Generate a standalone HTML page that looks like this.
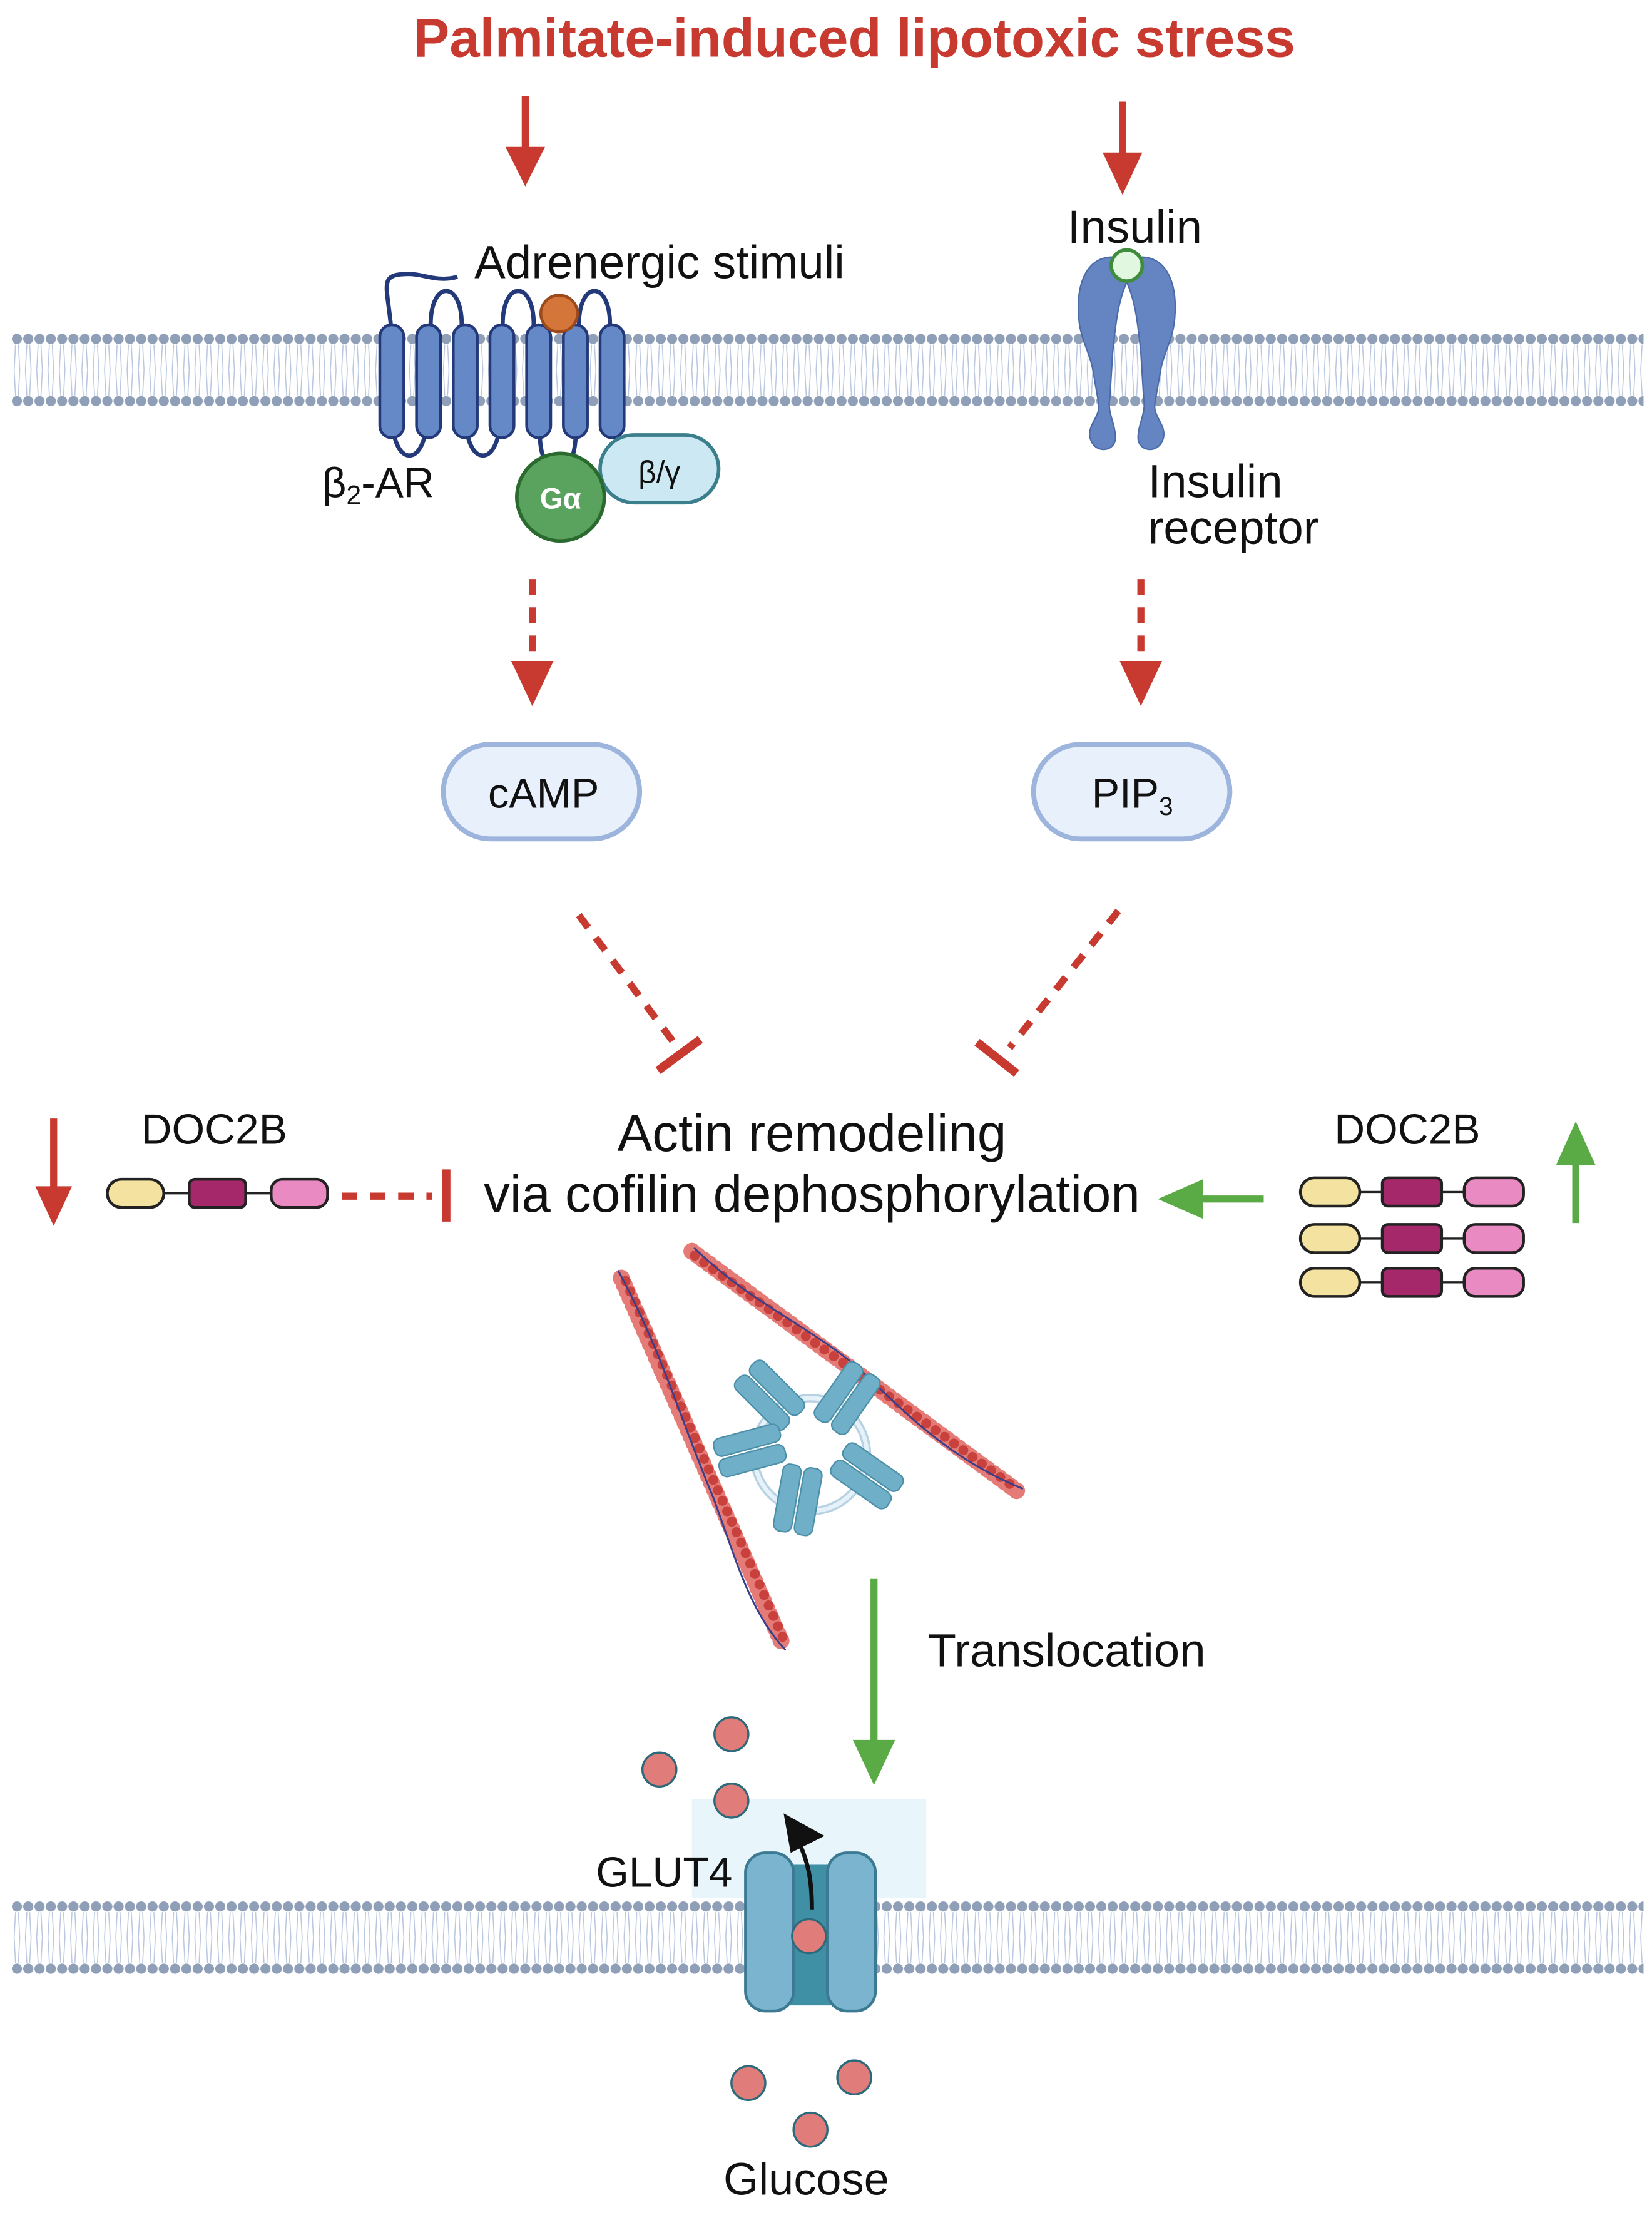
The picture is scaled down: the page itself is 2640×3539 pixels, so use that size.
<!DOCTYPE html>
<html><head><meta charset="utf-8"><style>
html,body{margin:0;padding:0;background:#fff}
svg{display:block}
text{font-family:"Liberation Sans",Arial,sans-serif}
</style></head><body>
<svg width="2640" height="3539" viewBox="0 0 1170 1568.4" xmlns="http://www.w3.org/2000/svg">
<defs>
<pattern id="mem" x="0" y="0" width="8" height="52" patternUnits="userSpaceOnUse">
<line x1="3" y1="8" x2="2" y2="26" stroke="#b8c6de" stroke-width="0.7"/>
<line x1="5" y1="8" x2="6" y2="26" stroke="#b8c6de" stroke-width="0.7"/>
<line x1="3" y1="44" x2="2" y2="26" stroke="#b8c6de" stroke-width="0.7"/>
<line x1="5" y1="44" x2="6" y2="26" stroke="#b8c6de" stroke-width="0.7"/>
<circle cx="4" cy="4" r="3.6" fill="#8f9fb7"/>
<circle cx="4" cy="48" r="3.6" fill="#8f9fb7"/>
</pattern>
</defs>

<!-- membranes -->
<g transform="translate(8,236)"><rect x="0" y="0" width="1156" height="52" fill="url(#mem)"/></g>
<g transform="translate(8,1346)"><rect x="0" y="0" width="1156" height="52" fill="url(#mem)"/></g>

<!-- title -->
<text x="605" y="40" text-anchor="middle" font-size="38.5" font-weight="bold" fill="#c83a30">Palmitate-induced lipotoxic stress</text>

<!-- red arrows top -->
<line x1="372" y1="68" x2="372" y2="108" stroke="#c83a30" stroke-width="5"/>
<polygon points="358,104 386,104 372,132" fill="#c83a30"/>
<line x1="795" y1="72" x2="795" y2="112" stroke="#c83a30" stroke-width="5"/>
<polygon points="781,108 809,108 795,138" fill="#c83a30"/>

<!-- GPCR -->
<g stroke="#23397a" stroke-width="3" fill="none">
<path d="M277,232 C274,200 268,194 290,194 C300,194 310,200 324,196"/>
<path d="M305,230 C305,198 327,198 327,230"/>
<path d="M356,230 C356,198 378,198 378,230"/>
<path d="M410,230 C410,198 432,198 432,230"/>
<path d="M278,300 C280,330 300,330 302,300"/>
<path d="M330,300 C332,330 352,330 354,300"/>
<path d="M382,300 C382,320 385,325 388,330"/>
<path d="M408,300 C408,320 405,325 402,330"/>
</g>
<g fill="#6589c6" stroke="#23397a" stroke-width="2">
<rect x="269" y="230" width="17" height="80" rx="8.5"/>
<rect x="295" y="230" width="17" height="80" rx="8.5"/>
<rect x="321" y="230" width="17" height="80" rx="8.5"/>
<rect x="347" y="230" width="17" height="80" rx="8.5"/>
<rect x="373" y="230" width="17" height="80" rx="8.5"/>
<rect x="399" y="230" width="17" height="80" rx="8.5"/>
<rect x="425" y="230" width="17" height="80" rx="8.5"/>
</g>
<circle cx="396" cy="222" r="13" fill="#d4763a" stroke="#9c4a1c" stroke-width="2"/>
<rect x="425" y="308" width="84" height="48" rx="24" fill="#cce8f2" stroke="#3b7f8c" stroke-width="2.5"/>
<text x="467" y="342" text-anchor="middle" font-size="22" fill="#111">β/γ</text>
<circle cx="397" cy="352" r="31" fill="#5aa35e" stroke="#2b6a2e" stroke-width="2.5"/>
<text x="397" y="360" text-anchor="middle" font-size="21" font-weight="bold" fill="#fff">Gα</text>
<text x="336" y="197" font-size="33" fill="#111">Adrenergic stimuli</text>
<text x="228" y="352" font-size="30" fill="#111">β<tspan font-size="19" dy="5">2</tspan><tspan dy="-5">-AR</tspan></text>

<!-- Insulin receptor -->
<text x="756" y="172" font-size="33" fill="#111">Insulin</text>
<g fill="#6484c2" stroke="#4a6aa8" stroke-width="1">
<path d="M788,182 C770,182 762,200 764,225 C765,240 772,250 774,262 L778,285 C780,295 770,300 772,310 C775,322 790,320 790,310 C790,300 784,292 786,282 L788,250 C790,230 792,210 800,196 Z"/>
<path d="M808,182 C826,182 834,200 832,225 C831,240 824,250 822,262 L818,285 C816,295 826,300 824,310 C821,322 806,320 806,310 C806,300 812,292 810,282 L808,250 C806,230 804,210 796,196 Z"/>
</g>
<circle cx="798" cy="188" r="11" fill="#e2f7df" stroke="#3f8d3c" stroke-width="2.5"/>
<text x="813" y="352" font-size="33" fill="#111">Insulin</text>
<text x="813" y="385" font-size="33" fill="#111">receptor</text>

<!-- dashed red arrows -->
<line x1="377" y1="410" x2="377" y2="468" stroke="#c83a30" stroke-width="5" stroke-dasharray="11,9"/>
<polygon points="362,468 392,468 377,500" fill="#c83a30"/>
<line x1="808" y1="410" x2="808" y2="468" stroke="#c83a30" stroke-width="5" stroke-dasharray="11,9"/>
<polygon points="793,468 823,468 808,500" fill="#c83a30"/>

<!-- cAMP / PIP3 -->
<rect x="314" y="527" width="139" height="67" rx="33.5" fill="#e8f0fb" stroke="#9db4dd" stroke-width="3.5"/>
<text x="385" y="572" text-anchor="middle" font-size="29.5" fill="#111">cAMP</text>
<rect x="732" y="527" width="139" height="67" rx="33.5" fill="#e8f0fb" stroke="#9db4dd" stroke-width="3.5"/>
<text x="802" y="572" font-size="29.5" fill="#111" text-anchor="middle">PIP<tspan font-size="18" dy="5">3</tspan></text>

<!-- inhibitory dashed -->
<line x1="410" y1="648" x2="480" y2="742" stroke="#c83a30" stroke-width="5" stroke-dasharray="11,9"/>
<line x1="466" y1="758" x2="496" y2="736" stroke="#c83a30" stroke-width="6"/>
<line x1="792" y1="645" x2="715" y2="742" stroke="#c83a30" stroke-width="5" stroke-dasharray="11,9"/>
<line x1="692" y1="738" x2="720" y2="760" stroke="#c83a30" stroke-width="6"/>

<!-- actin text -->
<text x="575" y="815" text-anchor="middle" font-size="37" fill="#111">Actin remodeling</text>
<text x="575" y="858" text-anchor="middle" font-size="37" fill="#111">via cofilin dephosphorylation</text>

<!-- DOC2B left -->
<text x="100" y="810" font-size="30" fill="#111">DOC2B</text>
<line x1="38" y1="792" x2="38" y2="845" stroke="#c83a30" stroke-width="5"/>
<polygon points="25,840 51,840 38,868" fill="#c83a30"/>
<line x1="110" y1="845" x2="200" y2="845" stroke="#222" stroke-width="1.5"/>
<rect x="76" y="835" width="40" height="20" rx="10" fill="#f3e2a0" stroke="#222" stroke-width="2"/>
<rect x="134" y="835" width="40" height="20" rx="4" fill="#a4286a" stroke="#222" stroke-width="2"/>
<rect x="192" y="835" width="40" height="20" rx="8" fill="#e98ac2" stroke="#222" stroke-width="2"/>
<line x1="242" y1="847" x2="306" y2="847" stroke="#c83a30" stroke-width="5" stroke-dasharray="11,9"/>
<line x1="316" y1="828" x2="316" y2="865" stroke="#c83a30" stroke-width="6"/>

<!-- DOC2B right -->
<text x="945" y="810" font-size="30" fill="#111">DOC2B</text>
<line x1="895" y1="849" x2="850" y2="849" stroke="#5aab45" stroke-width="5"/>
<polygon points="852,835 852,863 820,849" fill="#5aab45"/>
<line x1="1116" y1="866" x2="1116" y2="820" stroke="#5aab45" stroke-width="5"/>
<polygon points="1102,825 1130,825 1116,794" fill="#5aab45"/>
<g stroke="#222" stroke-width="2">
<g>
<line x1="960" y1="844" x2="1045" y2="844" stroke-width="1.5"/>
<rect x="921" y="834" width="42" height="20" rx="10" fill="#f3e2a0"/>
<rect x="979" y="834" width="42" height="20" rx="4" fill="#a4286a"/>
<rect x="1037" y="834" width="42" height="20" rx="8" fill="#e98ac2"/>
</g>
<g transform="translate(0,33)">
<line x1="960" y1="844" x2="1045" y2="844" stroke-width="1.5"/>
<rect x="921" y="834" width="42" height="20" rx="10" fill="#f3e2a0"/>
<rect x="979" y="834" width="42" height="20" rx="4" fill="#a4286a"/>
<rect x="1037" y="834" width="42" height="20" rx="8" fill="#e98ac2"/>
</g>
<g transform="translate(0,64)">
<line x1="960" y1="844" x2="1045" y2="844" stroke-width="1.5"/>
<rect x="921" y="834" width="42" height="20" rx="10" fill="#f3e2a0"/>
<rect x="979" y="834" width="42" height="20" rx="4" fill="#a4286a"/>
<rect x="1037" y="834" width="42" height="20" rx="8" fill="#e98ac2"/>
</g>
</g>

<!-- actin filaments -->
<g stroke-linecap="round" fill="none">
<line x1="440" y1="905" x2="555" y2="1166" stroke="#e57b77" stroke-width="12" stroke-dasharray="0.1,5"/>
<line x1="443" y1="907" x2="556" y2="1163" stroke="#c8413d" stroke-width="7" stroke-dasharray="0.1,8"/>
<path d="M438,900 C470,960 480,1000 505,1060 C520,1100 530,1140 556,1168" stroke="#3a3f8a" stroke-width="1.3"/>
<line x1="490" y1="886" x2="722" y2="1057" stroke="#e57b77" stroke-width="12" stroke-dasharray="0.1,5"/>
<line x1="492" y1="889" x2="721" y2="1055" stroke="#c8413d" stroke-width="7" stroke-dasharray="0.1,8"/>
<path d="M492,884 C540,930 580,940 620,980 C660,1020 690,1040 724,1054" stroke="#3a3f8a" stroke-width="1.3"/>
</g>

<!-- vesicle -->
<circle cx="574" cy="1030" r="40" fill="none" stroke="#b8d2e3" stroke-width="6"/>
<circle cx="574" cy="1030" r="40" fill="none" stroke="#e6f2fa" stroke-width="3"/>
<g fill="#6fafc8" stroke="#4b8fa8" stroke-width="1">
<g transform="translate(545,988) rotate(45)"><rect x="-24" y="-14" width="48" height="13" rx="5"/><rect x="-24" y="1" width="48" height="13" rx="5"/></g>
<g transform="translate(600,990) rotate(-55)"><rect x="-24" y="-14" width="48" height="13" rx="5"/><rect x="-24" y="1" width="48" height="13" rx="5"/></g>
<g transform="translate(531,1027) rotate(-15)"><rect x="-24" y="-14" width="48" height="13" rx="5"/><rect x="-24" y="1" width="48" height="13" rx="5"/></g>
<g transform="translate(614,1045) rotate(35)"><rect x="-24" y="-14" width="48" height="13" rx="5"/><rect x="-24" y="1" width="48" height="13" rx="5"/></g>
<g transform="translate(565,1062) rotate(-80)"><rect x="-24" y="-14" width="48" height="13" rx="5"/><rect x="-24" y="1" width="48" height="13" rx="5"/></g>
</g>

<!-- translocation arrow -->
<line x1="619" y1="1118" x2="619" y2="1235" stroke="#5aab45" stroke-width="5"/>
<polygon points="604,1232 634,1232 619,1264" fill="#5aab45"/>
<text x="657" y="1180" font-size="33" fill="#111">Translocation</text>

<!-- GLUT4 glow -->
<rect x="490" y="1274" width="166" height="70" fill="#e6f5fc" opacity="0.9"/>

<!-- glucose -->
<g fill="#e07c7a" stroke="#2a6a7a" stroke-width="1.5">
<circle cx="518" cy="1228" r="12"/>
<circle cx="467" cy="1253" r="12"/>
<circle cx="518" cy="1275" r="12"/>
<circle cx="530" cy="1475" r="12"/>
<circle cx="605" cy="1471" r="12"/>
<circle cx="574" cy="1508" r="12"/>
</g>
<text x="571" y="1554" text-anchor="middle" font-size="32" fill="#111">Glucose</text>

<!-- GLUT4 -->
<text x="422" y="1336" font-size="30" fill="#111">GLUT4</text>
<rect x="548" y="1320" width="52" height="100" fill="#3f8fa5"/>
<rect x="528" y="1312" width="34" height="112" rx="14" fill="#7ab4cf" stroke="#3b7a92" stroke-width="2"/>
<rect x="586" y="1312" width="34" height="112" rx="14" fill="#7ab4cf" stroke="#3b7a92" stroke-width="2"/>
<circle cx="573" cy="1371" r="12" fill="#e07c7a" stroke="#2a6a7a" stroke-width="1.5"/>
<path d="M575,1352 C575,1330 572,1318 566,1305" stroke="#111" stroke-width="3" fill="none"/>
<polygon points="555,1284 584,1300 560,1312" fill="#111"/>
</svg>
</body></html>
